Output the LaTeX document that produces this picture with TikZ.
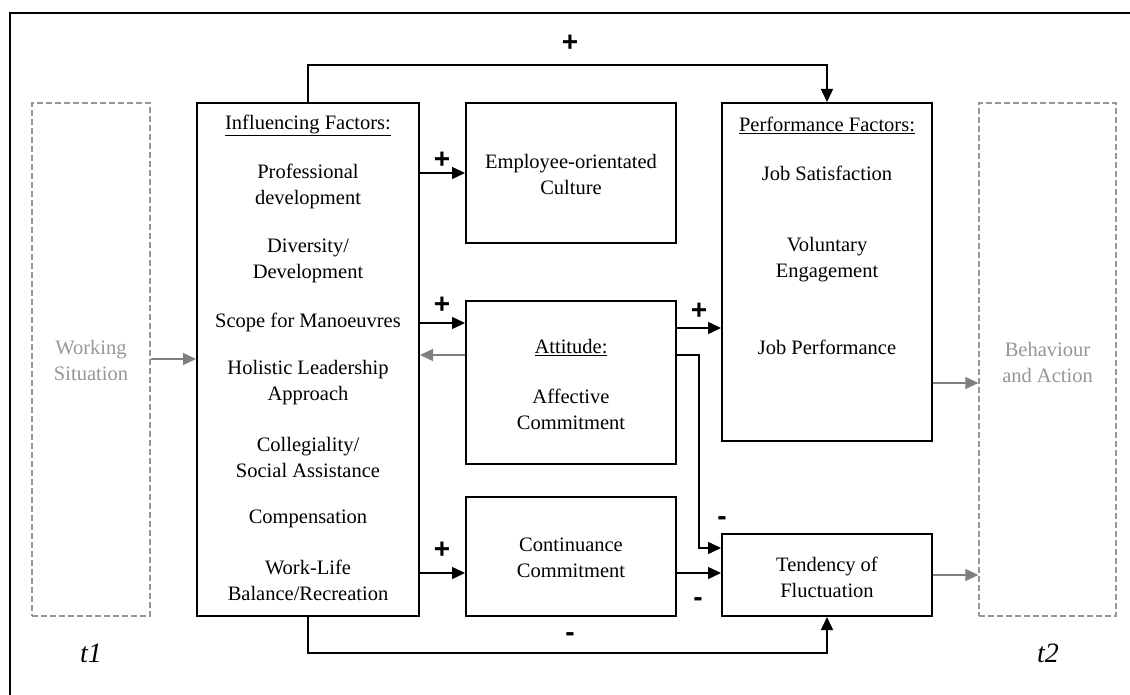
\documentclass[tikz,border=0pt]{standalone}
\usepackage{fontspec}
\setmainfont{Liberation Serif}
\newfontfamily\signfont{Liberation Sans}
\usetikzlibrary{arrows.meta}
\definecolor{lgray}{RGB}{150,150,150}
\definecolor{agray}{RGB}{128,128,128}
\tikzset{
  box/.style={draw, line width=2pt, inner sep=0pt},
  dbox/.style={draw=lgray, line width=1.4pt, dash pattern=on 6pt off 3pt, inner sep=0pt},
  txt/.style={align=center, font=\fontsize{20.5}{26}\selectfont, inner sep=0pt},
  gtxt/.style={txt, text=lgray},
  arr/.style={-{Triangle[length=13pt,width=12pt]}, line width=1.5pt},
  garr/.style={-{Triangle[length=13pt,width=12pt]}, line width=1.5pt, draw=agray, color=agray},
  sgn/.style={font=\signfont\bfseries\fontsize{28}{28}\selectfont, inner sep=0pt},
  tlab/.style={font=\itshape\fontsize{28}{30}\selectfont, inner sep=0pt}
}
\begin{document}
\begin{tikzpicture}[x=1pt,y=-1pt]
\useasboundingbox (0,0) rectangle (1130,695);
\draw[line width=2.4pt] (10,697) -- (10,13) -- (1132,13);

% boxes
\node[dbox, minimum width=118pt, minimum height=513pt] (ws) at (91,359.5) {};
\node[dbox, minimum width=137pt, minimum height=513pt] (beh) at (1047.5,359.5) {};
\node[box, minimum width=222pt, minimum height=513pt] (inf) at (308,359.5) {};
\node[box, minimum width=210pt, minimum height=140pt] (ec) at (571,173) {};
\node[box, minimum width=210pt, minimum height=163pt] (att) at (571,382.5) {};
\node[box, minimum width=210pt, minimum height=119pt] (cc) at (571,556.5) {};
\node[box, minimum width=210pt, minimum height=338pt] (perf) at (827,272) {};
\node[box, minimum width=210pt, minimum height=82pt] (tend) at (827,575) {};

% texts
\node[gtxt] (wst) at (91,360) {Working\\Situation};
\node[gtxt] (beht) at (1047.5,362) {Behaviour\\and Action};

\node[txt] (i0) at (308,125) {\underline{Influencing Factors:}};
\node[txt] (i1) at (308,186) {Professional\\development};
\node[txt] (i2) at (308,260.5) {Diversity/\\Development};
\node[txt] (i3) at (308,322) {Scope for Manoeuvres};
\node[txt] (i4) at (308,383) {Holistic Leadership\\Approach};
\node[txt] (i5) at (308,457) {Collegiality/\\Social Assistance};
\node[txt] (i6) at (308,519) {Compensation};
\node[txt] (i7) at (308,580.5) {Work-Life\\Balance/Recreation};

\node[txt] (ect) at (571,174) {Employee-orientated\\Culture};
\node[txt] (a0) at (571,348) {\underline{Attitude:}};
\node[txt] (a1) at (571,409) {Affective\\Commitment};
\node[txt] (cct) at (571,558) {Continuance\\Commitment};

\node[txt] (p0) at (827,125) {\underline{Performance Factors:}};
\node[txt] (p1) at (827,173) {Job Satisfaction};
\node[txt] (p2) at (827,260) {Voluntary\\Engagement};
\node[txt] (p3) at (827,347) {Job Performance};
\node[txt] (tt) at (827,577) {Tendency of\\Fluctuation};

\node[tlab] (t1) at (91,653) {t1};
\node[tlab] (t2) at (1048,653) {t2};

% connectors
\draw[garr] (ws.east |- 0,359) -- (inf.west |- 0,359);
\draw[garr] (att.west |- 0,355) -- (inf.east |- 0,355);
\draw[garr] (perf.east |- 0,383) -- (beh.west |- 0,383);
\draw[garr] (tend.east |- 0,575) -- (beh.west |- 0,575);

\draw[arr] (inf.north) -- ++(0,-37) -| (perf.north);
\draw[arr] (inf.east |- ec.west) -- (ec.west);
\draw[arr] (inf.east |- 0,323) -- (att.west |- 0,323);
\draw[arr] (inf.east |- 0,573) -- (cc.west |- 0,573);
\draw[arr] (att.east |- 0,328) -- (perf.west |- 0,328);
\draw[arr] (att.east |- 0,355) -- (699,355) |- (tend.west |- 0,548);
\draw[arr] (cc.east |- 0,573) -- (tend.west |- 0,573);
\draw[arr] (inf.south) -- ++(0,36) -| (tend.south);

% signs
\node[sgn] (s1) at (570,43) {+};
\node[sgn] (s2) at (442,160) {+};
\node[sgn] (s3) at (442,305) {+};
\node[sgn] (s4) at (699,311) {+};
\node[sgn] (s5) at (442,550) {+};
\node[sgn] (s6) at (722,521) {-};
\node[sgn] (s7) at (698,602) {-};
\node[sgn] (s8) at (570,637) {-};
\end{tikzpicture}
\end{document}
